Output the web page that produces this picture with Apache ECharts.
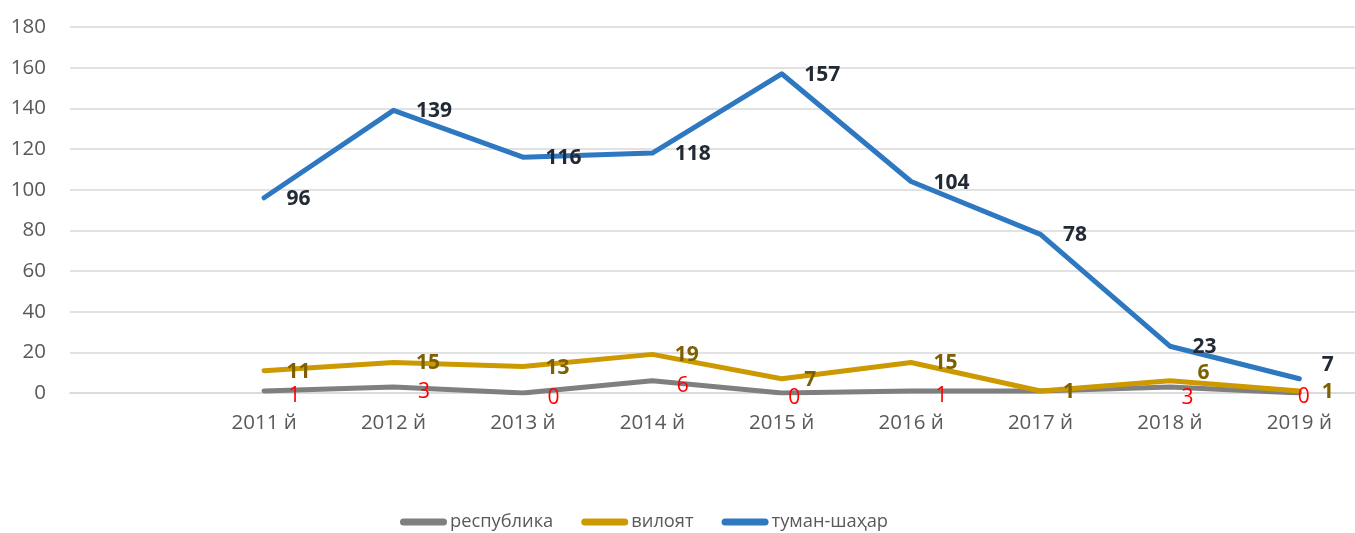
<!DOCTYPE html>
<html>
<head>
<meta charset="utf-8">
<script src="https://cdn.jsdelivr.net/npm/echarts@6/dist/echarts.min.js"></script>
<style>
  html, body { margin: 0; padding: 0; background: #fff; overflow: hidden; }
  /* plot area runs a few px past the window edge, like the reference */
  #chartLine { width: 1364px; height: 533px; }
</style>
</head>
<body>
<!-- chart container -->
<div id="chartLine"></div>
<script>
// first category is empty, the reference leaves a gap before 2011
const years = ['', '2011 й', '2012 й', '2013 й', '2014 й', '2015 й', '2016 й', '2017 й', '2018 й', '2019 й'];
const seriesNames = ['республика', 'вилоят', 'туман-шаҳар'];
const respublika = [null, 1, 3, 0, 6, 0, 1, 1, 3, 0];
const viloyat = [null, 11, 15, 13, 19, 7, 15, 1, 6, 1];
const tumanShahar = [null, 96, 139, 116, 118, 157, 104, 78, 23, 7];
const yTicks = { min: 0, max: 180, interval: 20 };

const FONT = '"Open Sans", "Noto Sans", sans-serif';

// small label nudges (index into the arrays above), like Excel's hand-moved labels
const redNudge = { 5: [-16, 5], 7: null, 8: [-11, 11], 9: [-24, 4] };
const goldNudge = { 8: [5, -8] };
const blueNudge = { 9: [0, -14] };

function buildData(values, nudge) {
  return values.map((v, i) => {
    if (!(i in nudge)) return v;
    if (nudge[i] === null) return { value: v, label: { show: false } };
    return { value: v, label: { offset: nudge[i] } };
  });
}

function lineSeries(name, values, color, label, nudge) {
  return {
    name: name,
    type: 'line',
    data: buildData(values, nudge),
    symbol: 'circle',
    symbolSize: 1,
    showSymbol: true,
    itemStyle: { color: color },
    lineStyle: { width: 5, color: color, cap: 'round', join: 'round' },
    label: Object.assign({ show: true, position: 'right', distance: 22, fontFamily: FONT, fontSize: 21 }, label),
    emphasis: { disabled: true },
    animation: false
  };
}

const chartLine = echarts.init(document.getElementById('chartLine'));

let option = {
  textStyle: { fontFamily: FONT },
  grid: { left: 70, right: 0, top: 27, bottom: 140, containLabel: false },
  legend: {
    left: 395,
    top: 508,
    itemWidth: 47,
    itemHeight: 7,
    itemGap: 28,
    icon: 'path://M3.5,0 H43.5 A3.5,3.5 0 0 1 43.5,7 H3.5 A3.5,3.5 0 0 1 3.5,0 Z',
    textStyle: { color: '#595959', fontSize: 18.3, fontFamily: FONT, padding: [0, 0, 0, -2] },
    data: seriesNames
  },
  xAxis: {
    type: 'category',
    boundaryGap: true,
    data: years,
    axisLine: { show: true, lineStyle: { color: '#d9d9d9', width: 1.5 } },
    axisTick: { show: false },
    axisLabel: { color: '#595959', fontSize: 20.5, fontFamily: FONT, margin: 20, interval: 0 }
  },
  yAxis: {
    type: 'value',
    min: yTicks.min,
    max: yTicks.max,
    interval: yTicks.interval,
    axisLine: { show: false },
    axisTick: { show: false },
    axisLabel: { color: '#595959', fontSize: 20.5, fontFamily: FONT, margin: 24 },
    splitLine: { lineStyle: { color: '#d9d9d9', width: 1.5 } }
  },
  series: [
    lineSeries(seriesNames[0], respublika, '#7f7f7f',
      { color: '#ff0000', offset: [2, 5] }, redNudge),
    lineSeries(seriesNames[1], viloyat, '#cc9a00',
      { color: '#7f6000', fontWeight: 'bold', offset: [0, 1] }, goldNudge),
    lineSeries(seriesNames[2], tumanShahar, '#2e78c2',
      { color: '#222a35', fontWeight: 'bold', offset: [0, 1] }, blueNudge)
  ]
};

chartLine.setOption(option, true);
</script>
</body>
</html>
